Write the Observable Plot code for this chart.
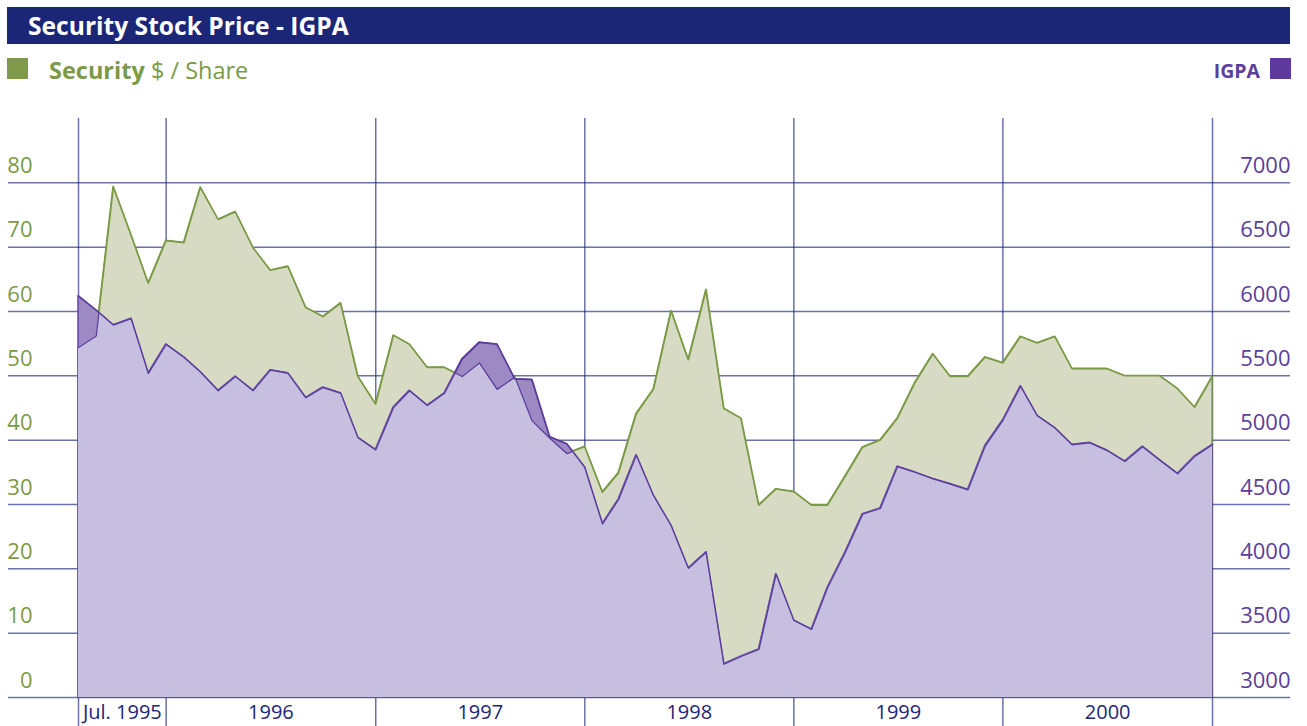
<!DOCTYPE html>
<html><head><meta charset="utf-8">
<script src="https://cdn.jsdelivr.net/npm/d3@7"></script>
<script src="https://cdn.jsdelivr.net/npm/@observablehq/plot@0.6"></script>
<style>
body{margin:0;background:#fff;font-family:"Open Sans",sans-serif;width:1307px;height:726px;overflow:hidden;position:relative}
#title{position:absolute;left:7px;top:7px;width:1283px;height:37px;background:#1c2677;color:#fff;font-weight:700;font-size:24.6px;line-height:38px;box-sizing:border-box;padding-left:21px;white-space:nowrap}
.sq{position:absolute;width:21px;height:21px}
.leg{position:absolute;font-size:23.5px;line-height:28px;white-space:nowrap}
#chart{position:absolute;left:0;top:88px}
</style></head>
<body>
<div id="title">Security Stock Price - IGPA</div>
<div class="sq" style="left:7px;top:58px;background:#7f9a48"></div>
<div class="leg" style="left:49px;top:56px;color:#7b9a46"><b>Security</b> $ / Share</div>
<div class="leg" style="right:47px;top:57px;color:#5b3d9c;font-size:19.5px;font-weight:700">IGPA</div>
<div class="sq" style="left:1270px;top:58px;background:#5d3a9c"></div>
<div id="chart"></div>
<script>
// Monthly observations, Jul 1995 .. Dec 2000 (month-end)
const security = [
  54.4, 56.2, 79.4, 71.9, 64.4, 71.0,
  70.7, 79.3, 74.3, 75.5, 69.9, 66.4, 67.0, 60.6, 59.2, 61.3, 49.9, 45.6,
  56.3, 54.9, 51.3, 51.3, 49.9, 52.0, 47.9, 49.8, 43.0, 40.3, 37.9, 39.0,
  31.9, 34.9, 44.1, 47.9, 60.1, 52.5, 63.4, 44.9, 43.4, 29.9, 32.4, 32.0,
  29.9, 29.9, 34.4, 38.9, 40.0, 43.4, 49.0, 53.4, 49.9, 49.9, 52.9, 52.0,
  56.1, 55.1, 56.1, 51.1, 51.1, 51.1, 50.0, 50.0, 50.0, 48.0, 45.1, 49.9
];
const igpa = [
  6120, 6010, 5895, 5945, 5520, 5745,
  5645, 5530, 5385, 5495, 5385, 5545, 5520, 5330, 5410, 5365, 5020, 4925,
  5255, 5385, 5270, 5365, 5630, 5760, 5745, 5475, 5470, 5025, 4970, 4790,
  4350, 4540, 4885, 4570, 4335, 4005, 4130, 3260, 3320, 3375, 3960, 3600,
  3530, 3855, 4130, 4425, 4470, 4795, 4750, 4700, 4660, 4615, 4955, 5155,
  5420, 5190, 5095, 4965, 4980, 4920, 4835, 4950, 4845, 4740, 4875, 4965
];
const securityTicks = [0, 10, 20, 30, 40, 50, 60, 70, 80];
const igpaTicks = [3000, 3500, 4000, 4500, 5000, 5500, 6000, 6500, 7000];
const periodBounds = ["1995-07-31", "1995-12-31", "1996-12-31", "1997-12-31", "1998-12-31", "1999-12-31", "2000-12-31"];
const periodLabels = ["Jul. 1995", "1996", "1997", "1998", "1999", "2000"];

const months = d3.utcMonth.range(new Date(Date.UTC(1995, 7, 1)), new Date(Date.UTC(2001, 0, 2)))
  .map(d => d3.utcDay.offset(d, -1));
const toLeft = v => v / 50 - 60; // IGPA mapped onto the $/share axis (3000 -> 0, 7000 -> 80)
const data = months.map((date, i) => ({date, s: security[i], g: toLeft(igpa[i])}));
const bounds = periodBounds.map(s => new Date(s));
const labels = periodLabels.map((t, i) => ({t, date: new Date((+bounds[i] + +bounds[i + 1]) / 2)}));

const GREEN = "#7b9a46", PURPLE = "#5b3d9c", NAVY = "#1c2677";

const plot = Plot.plot({
  width: 1307,
  height: 638,
  marginTop: 30,
  marginBottom: 29,
  marginLeft: 78,
  marginRight: 95,
  style: {fontFamily: "'Open Sans', sans-serif", overflow: "visible", background: "transparent"},
  x: {type: "utc", domain: [bounds[0], bounds[bounds.length - 1]], axis: null},
  y: {domain: [0, 90], axis: null},
  marks: [
    Plot.ruleY(securityTicks, {stroke: NAVY, strokeOpacity: 0.65, strokeWidth: 1.5, insetLeft: -70, insetRight: -78}),
    Plot.ruleX(bounds, {stroke: NAVY, strokeOpacity: 0.65, strokeWidth: 1.5, insetBottom: -29}),
    Plot.areaY(data, {x: "date", y: "s", fill: "#d8dbc4", stroke: GREEN, strokeWidth: 1.3}),
    Plot.lineY(data, {x: "date", y: "s", stroke: GREEN, strokeWidth: 1.5}),
    Plot.areaY(data, {x: "date", y: "g", fill: "#9d89c3", stroke: PURPLE, strokeWidth: 1.3}),
    Plot.areaY(data, {x: "date", y: "g", fill: "#c7bfdf"}),
    Plot.lineY(data, {x: "date", y: "s", stroke: PURPLE, strokeWidth: 1.3}),
    Plot.lineY(data, {x: "date", y: "g", stroke: PURPLE, strokeWidth: 1.5}),
    Plot.text(securityTicks, {x: () => bounds[0], y: d => d, text: d => String(d), dx: -46, dy: -17, textAnchor: "end", fill: GREEN, fontSize: 22}),
    Plot.text(igpaTicks, {x: () => bounds[bounds.length - 1], y: d => toLeft(d), text: d => String(d), dx: 78, dy: -17, textAnchor: "end", fill: PURPLE, fontSize: 22}),
    Plot.text(labels, {x: "date", y: () => 0, text: "t", dy: 15, fill: NAVY, fontSize: 20})
  ]
});
document.getElementById("chart").appendChild(plot);

// Overlap handling: lavender = IGPA area inside the security area; purple security edge inside IGPA area
const ns = "http://www.w3.org/2000/svg";
const areas = plot.querySelectorAll('g[aria-label="area"]');
const lines = plot.querySelectorAll('g[aria-label="line"]');
const defs = document.createElementNS(ns, "defs");
plot.insertBefore(defs, plot.firstChild);
function clip(source, target, id) {
  const cp = document.createElementNS(ns, "clipPath");
  cp.setAttribute("id", id);
  const p = source.querySelector("path").cloneNode();
  if (source.getAttribute("transform")) p.setAttribute("transform", source.getAttribute("transform"));
  p.removeAttribute("fill"); p.removeAttribute("stroke");
  cp.appendChild(p);
  defs.appendChild(cp);
  const wrap = document.createElementNS(ns, "g");
  target.parentNode.insertBefore(wrap, target);
  wrap.appendChild(target);
  wrap.setAttribute("clip-path", `url(#${id})`);
}
clip(areas[0], areas[2], "clipSec");
clip(areas[1], lines[1], "clipIgpa");
</script>
</body></html>
